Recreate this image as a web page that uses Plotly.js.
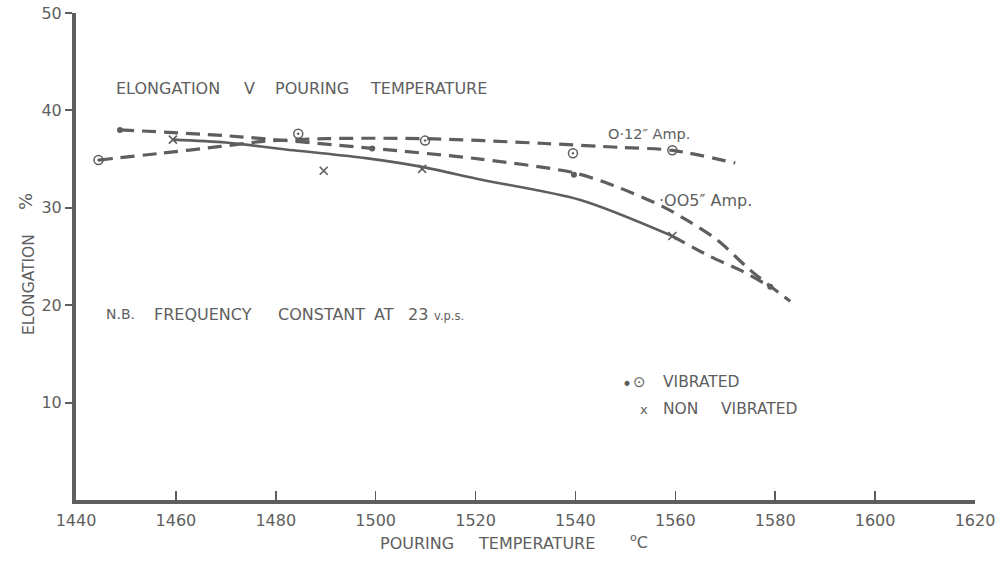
<!DOCTYPE html>
<html>
<head>
<meta charset="utf-8">
<script src="https://cdn.plot.ly/plotly-3.0.1.min.js"></script>
<style>html,body{margin:0;padding:0;background:#fff;}#chart{width:997px;height:563px;}</style>
</head>
<body>
<div id="chart"></div>
<script>
// ---- data ----
// measured points
const vib005X = [1448.8, 1499.3, 1539.7, 1579.0];
const vib005Y = [38.0, 36.1, 33.4, 21.9];
const vib012X = [1444.5, 1484.5, 1509.9, 1539.5, 1559.4];
const vib012Y = [34.9, 37.6, 36.9, 35.6, 35.9];
const nonVibX = [1459.4, 1489.6, 1509.3, 1559.4];
const nonVibY = [37.0, 33.8, 34.0, 27.1];
// drawn curves
const curve005X = [1448.8, 1470, 1499.3, 1521, 1539.7, 1547.6, 1557.6, 1562.4, 1568.4, 1575, 1583];
const curve005Y = [38.0, 37.4, 36.1, 35.0, 33.6, 32.3, 30.1, 28.7, 26.7, 23.6, 20.4];
const curve012X = [1444.5, 1457, 1469, 1477, 1490, 1510, 1534, 1549, 1559.4, 1572];
const curve012Y = [34.9, 35.6, 36.3, 36.8, 37.1, 37.1, 36.6, 36.2, 35.9, 34.6];
const nonVibSolidX = [1459.4, 1470, 1483.5, 1498, 1509.3, 1521, 1541, 1559.4];
const nonVibSolidY = [37.0, 36.7, 35.9, 35.1, 34.2, 32.9, 30.8, 27.1];
const nonVibDashX = [1559.4, 1567, 1573, 1579];
const nonVibDashY = [27.1, 25.0, 23.6, 21.9];
// ticks
const xTicks = [1440, 1460, 1480, 1500, 1520, 1540, 1560, 1580, 1600, 1620];
const yTicks = [10, 20, 30, 40, 50];

const ink = '#5e5e5e';
const font = 'DejaVu Sans, sans-serif';

// plot area in pixels (for placing free text)
const L = 76, R = 975, T = 13, B = 500;
function txt(text, px, py, size, extra) {
  return Object.assign({
    xref: 'paper', yref: 'paper',
    x: (px - L) / (R - L), y: (B - py) / (B - T),
    xanchor: 'left', yanchor: 'middle',
    text: text, showarrow: false,
    font: {size: size, color: ink, family: font}
  }, extra || {});
}

const traces = [
  {x: curve012X, y: curve012Y, mode: 'lines', line: {color: ink, width: 3.2, dash: '14px,8px', shape: 'spline', smoothing: 0.8}, hoverinfo: 'skip'},
  {x: curve005X, y: curve005Y, mode: 'lines', line: {color: ink, width: 3.2, dash: '14px,8px', shape: 'spline', smoothing: 0.8}, hoverinfo: 'skip'},
  {x: nonVibSolidX, y: nonVibSolidY, mode: 'lines', line: {color: ink, width: 2.6, shape: 'spline', smoothing: 0.8}, hoverinfo: 'skip'},
  {x: nonVibDashX, y: nonVibDashY, mode: 'lines', line: {color: ink, width: 3.2, dash: '14px,8px', shape: 'spline', smoothing: 0.8}, hoverinfo: 'skip'},
  {x: vib005X, y: vib005Y, mode: 'markers', marker: {symbol: 'circle', size: 6, color: ink}},
  {x: vib012X, y: vib012Y, mode: 'markers', marker: {symbol: 'circle-open-dot', size: 9, color: ink, line: {width: 1.5, color: ink}}},
  {x: nonVibX, y: nonVibY, mode: 'markers', marker: {symbol: 'x-thin-open', size: 8, color: ink, line: {width: 1.6, color: ink}}}
];

const layout = {
  width: 997, height: 563,
  margin: {l: L, r: 997 - R, t: T, b: 563 - B},
  paper_bgcolor: '#ffffff', plot_bgcolor: '#ffffff',
  showlegend: false,
  font: {family: font, color: ink},
  xaxis: {
    range: [1440, 1620], tickvals: xTicks, ticktext: xTicks.map(String),
    showgrid: false, zeroline: false,
    showline: true, linecolor: ink, linewidth: 4,
    ticks: 'inside', ticklen: 9, tickwidth: 1.5, tickcolor: ink,
    ticklabelstandoff: 3,
    tickfont: {size: 16, color: ink, family: font}
  },
  yaxis: {
    range: [0, 50], tickvals: yTicks, ticktext: yTicks.map(String),
    showgrid: false, zeroline: false,
    showline: true, linecolor: ink, linewidth: 4,
    ticks: 'outside', ticklen: 7, tickwidth: 2, tickcolor: ink,
    tickfont: {size: 16, color: ink, family: font}
  },
  annotations: [
    // axis titles
    txt('ELONGATION', 29, 285, 15.5, {xanchor: 'center', textangle: -90}),
    txt('%', 25, 202, 18, {xanchor: 'center', textangle: -90}),
    txt('POURING', 378, 543, 16),
    txt('TEMPERATURE', 476, 543, 16),
    txt('<sup>o</sup>C', 628, 541, 16),
    // chart title
    txt('ELONGATION', 114, 88, 16),
    txt('V', 242, 88, 16),
    txt('POURING', 273, 88, 16),
    txt('TEMPERATURE', 368, 88, 16),
    // curve labels
    txt('O·12″ Amp.', 606, 134, 14.5),
    txt('·OO5″ Amp.', 657, 200, 16),
    // note
    txt('N.B.', 104, 314, 14),
    txt('FREQUENCY', 152, 314, 16),
    txt('CONSTANT', 276, 314, 16),
    txt('AT', 372, 314, 16),
    txt('23', 406, 314, 16),
    txt('v.p.s.', 432, 316, 11.5),
    // key
    txt('•', 620, 384, 17),
    txt('⊙', 631, 382, 15),
    txt('VIBRATED', 661, 382, 15.5),
    txt('x', 638, 409, 13),
    txt('NON', 661, 409, 15.5),
    txt('VIBRATED', 719, 409, 15.5)
  ]
};

Plotly.newPlot('chart', traces, layout, {displayModeBar: false, staticPlot: true});
</script>
</body>
</html>
